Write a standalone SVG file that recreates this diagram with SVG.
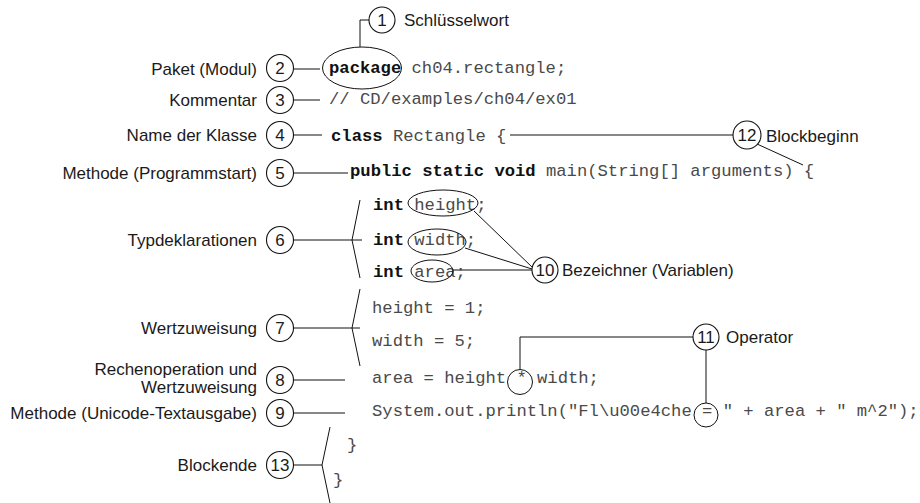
<svg xmlns="http://www.w3.org/2000/svg" width="920" height="503" viewBox="0 0 920 503">
<style>
.bg{fill:#fff}
.lbl{font-family:"Liberation Sans",Arial,sans-serif;font-size:17px;fill:#1a1a1a}
.r{text-anchor:end}
.num{font-family:"Liberation Sans",Arial,sans-serif;font-size:17px;fill:#1a1a1a;text-anchor:middle}
.code{font-family:"Liberation Mono","Courier New",monospace;font-size:17.2px;fill:#4a4a4a}
.b{font-weight:bold;fill:#111}
.c{fill:#fff;stroke:#111;stroke-width:1.1}
.e{fill:none;stroke:#111;stroke-width:1}
.ln{fill:none;stroke:#111;stroke-width:1}
</style>
<rect class="bg" x="0" y="0" width="920" height="503"/>
<g id="connectors">
<polyline class="ln" points="369,20 360,20 360,47"/>
<line class="ln" x1="294" y1="69" x2="320" y2="69"/>
<line class="ln" x1="294" y1="100" x2="320" y2="100"/>
<line class="ln" x1="294" y1="135" x2="322" y2="135"/>
<line class="ln" x1="294" y1="173" x2="348" y2="173"/>
<line class="ln" x1="510" y1="135" x2="733" y2="135"/>
<line class="ln" x1="757" y1="144" x2="803" y2="165"/>
<line class="ln" x1="293" y1="240" x2="362" y2="240"/>
<polyline class="ln" points="360,200 352,240 360,278"/>
<line class="ln" x1="474" y1="211" x2="533" y2="268"/>
<line class="ln" x1="465" y1="248" x2="532" y2="269"/>
<line class="ln" x1="453" y1="270" x2="532" y2="270"/>
<line class="ln" x1="293" y1="328" x2="360" y2="328"/>
<polyline class="ln" points="360,289 352,328 360,366"/>
<line class="ln" x1="293" y1="380" x2="345" y2="380"/>
<line class="ln" x1="293" y1="413" x2="345" y2="413"/>
<polyline class="ln" points="520,369 520,337 693,337"/>
<line class="ln" x1="706" y1="350" x2="706" y2="403"/>
<line class="ln" x1="293" y1="465" x2="322" y2="465"/>
<polyline class="ln" points="330,427 322,465 330,503"/>
</g>
<g id="code">
<text class="code" x="329" y="73"><tspan class="b">package</tspan> ch04.rectangle;</text>
<text class="code" x="329" y="104">// CD/examples/ch04/ex01</text>
<text class="code" x="331" y="141"><tspan class="b">class</tspan> Rectangle {</text>
<text class="code" x="350" y="176"><tspan class="b">public static void</tspan> main(String[] arguments) {</text>
<text class="code" x="373" y="210"><tspan class="b">int</tspan> height;</text>
<text class="code" x="373" y="245"><tspan class="b">int</tspan> width;</text>
<text class="code" x="373" y="277"><tspan class="b">int</tspan> area;</text>
<text class="code" x="372" y="313">height = 1;</text>
<text class="code" x="372" y="346">width = 5;</text>
<text class="code" x="372" y="383">area = height * width;</text>
<text class="code" x="372" y="416">System.out.println("Fl\u00e4che = " + area + " m^2");</text>
<text class="code" x="347" y="450">}</text>
<text class="code" x="333" y="485">}</text>
</g>
<g id="marks">
<ellipse class="e" cx="362" cy="68" rx="39.5" ry="21"/>
<ellipse class="e" cx="443" cy="203" rx="35" ry="13"/>
<ellipse class="e" cx="437" cy="242" rx="29" ry="13"/>
<ellipse class="e" cx="432" cy="271" rx="21" ry="11"/>
<circle class="e" cx="520" cy="382" r="12.5"/>
<circle class="e" cx="706" cy="415" r="12"/>
</g>
<g id="n1"><circle class="c" cx="382" cy="20" r="13"/><text class="num" x="382" y="26">1</text><text class="lbl" x="404" y="26">Schlüsselwort</text></g>
<g id="n2"><circle class="c" cx="280" cy="68" r="13.5"/><text class="num" x="280" y="74">2</text><text class="lbl r" x="257" y="75">Paket (Modul)</text></g>
<g id="n3"><circle class="c" cx="280" cy="100" r="13.5"/><text class="num" x="280" y="106">3</text><text class="lbl r" x="257" y="106">Kommentar</text></g>
<g id="n4"><circle class="c" cx="280" cy="135" r="13.5"/><text class="num" x="280" y="141">4</text><text class="lbl r" x="257" y="141">Name der Klasse</text></g>
<g id="n5"><circle class="c" cx="280" cy="173" r="13.5"/><text class="num" x="280" y="179">5</text><text class="lbl r" x="257" y="179">Methode (Programmstart)</text></g>
<g id="n6"><circle class="c" cx="280" cy="240" r="13.5"/><text class="num" x="280" y="246">6</text><text class="lbl r" x="257" y="246">Typdeklarationen</text></g>
<g id="n7"><circle class="c" cx="280" cy="328" r="13.5"/><text class="num" x="280" y="334">7</text><text class="lbl r" x="257" y="334">Wertzuweisung</text></g>
<g id="n8"><circle class="c" cx="280" cy="380" r="13.5"/><text class="num" x="280" y="386">8</text><text class="lbl r" x="257" y="375">Rechenoperation und</text><text class="lbl r" x="257" y="393">Wertzuweisung</text></g>
<g id="n9"><circle class="c" cx="280" cy="413" r="13.5"/><text class="num" x="280" y="419">9</text><text class="lbl r" x="257" y="419">Methode (Unicode-Textausgabe)</text></g>
<g id="n10"><circle class="c" cx="545" cy="270" r="13"/><text class="num" x="545" y="276">10</text><text class="lbl" x="562" y="276">Bezeichner (Variablen)</text></g>
<g id="n11"><circle class="c" cx="706" cy="337" r="13"/><text class="num" x="706" y="343">11</text><text class="lbl" x="726" y="343">Operator</text></g>
<g id="n12"><circle class="c" cx="747" cy="135" r="14"/><text class="num" x="747" y="141">12</text><text class="lbl" x="766" y="142">Blockbeginn</text></g>
<g id="n13"><circle class="c" cx="280" cy="465" r="13.5"/><text class="num" x="280" y="471">13</text><text class="lbl r" x="257" y="471">Blockende</text></g>
</svg>
